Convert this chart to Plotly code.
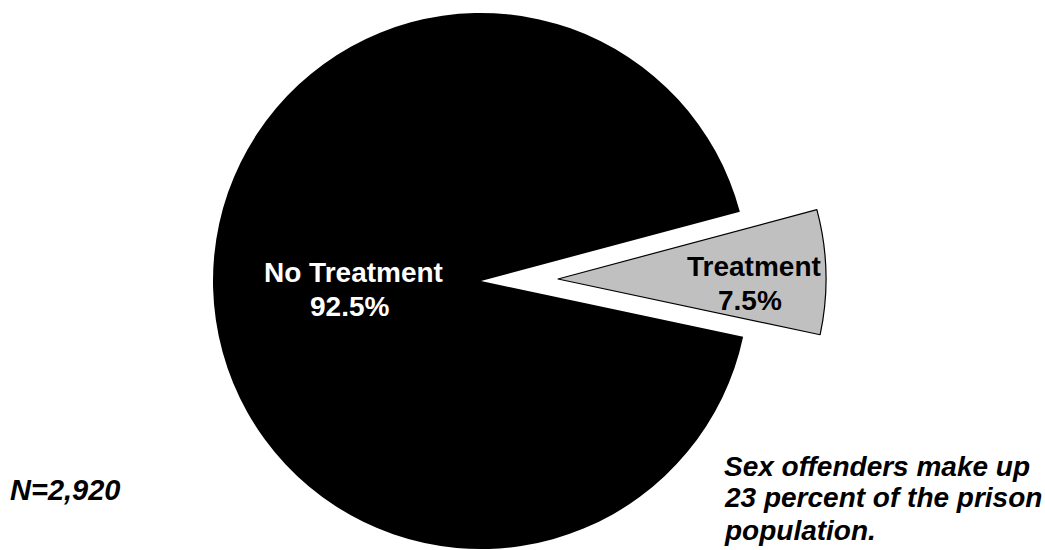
import plotly.graph_objects as go

# Share of sex offenders receiving treatment
labels = ["No Treatment", "Treatment"]
values = [92.5, 7.5]
colors = ["#000000", "#C0C0C0"]
total_n = "2,920"
note_lines = ["Sex offenders make up", "23 percent of the prison", "population."]

W, H = 1045, 550
R = 268              # pie radius in px
CX, CY = 481, 281    # pie centre in px
PULL_DX, PULL_DY = 77, -2   # offset of the exploded slice in px
ROT = 102

FONT = "Liberation Sans, Arial, sans-serif"
CLEAR = "rgba(0,0,0,0)"


def domain(cx, cy):
    return dict(
        x=[(cx - R) / W, (cx + R) / W],
        y=[1 - (cy + R) / H, 1 - (cy - R) / H],
    )


fig = go.Figure()

# main body: only the large slice visible
fig.add_trace(go.Pie(
    labels=labels, values=values, sort=False, direction="counterclockwise",
    rotation=ROT, domain=domain(CX, CY), textinfo="none", hoverinfo="label+percent",
    marker=dict(colors=[colors[0], CLEAR], line=dict(color=["#000000", CLEAR], width=[0, 0])),
    showlegend=False,
))

# exploded slice: only the small slice visible, shifted outwards
fig.add_trace(go.Pie(
    labels=labels, values=values, sort=False, direction="counterclockwise",
    rotation=ROT, domain=domain(CX + PULL_DX, CY + PULL_DY), textinfo="none",
    hoverinfo="label+percent",
    marker=dict(colors=[CLEAR, colors[1]], line=dict(color=[CLEAR, "#000000"], width=[0, 1.2])),
    showlegend=False,
))


def px_ann(text, x, y, size=28, color="black", italic=False, xanchor="center"):
    return dict(
        text=text, x=x / W, y=1 - y / H, xref="paper", yref="paper",
        xanchor=xanchor, yanchor="middle", showarrow=False,
        font=dict(family=FONT, size=size, color=color, weight="bold",
                  style="italic" if italic else "normal"),
    )


annotations = [
    px_ann(labels[0], 353, 272, color="white"),
    px_ann(f"{values[0]}%", 349, 306, color="white"),
    px_ann(labels[1], 754, 266),
    px_ann(f"{values[1]}%", 750, 300),
    px_ann(f"N={total_n}", 8, 490, size=29, italic=True, xanchor="left"),
]
for i, line in enumerate(note_lines):
    annotations.append(px_ann(line, 722, 466 + 32 * i, italic=True, xanchor="left"))

fig.update_layout(
    width=W, height=H,
    margin=dict(l=0, r=0, t=0, b=0),
    paper_bgcolor="white", plot_bgcolor="white",
    showlegend=False,
    annotations=annotations,
)

fig.write_html("out.html")
